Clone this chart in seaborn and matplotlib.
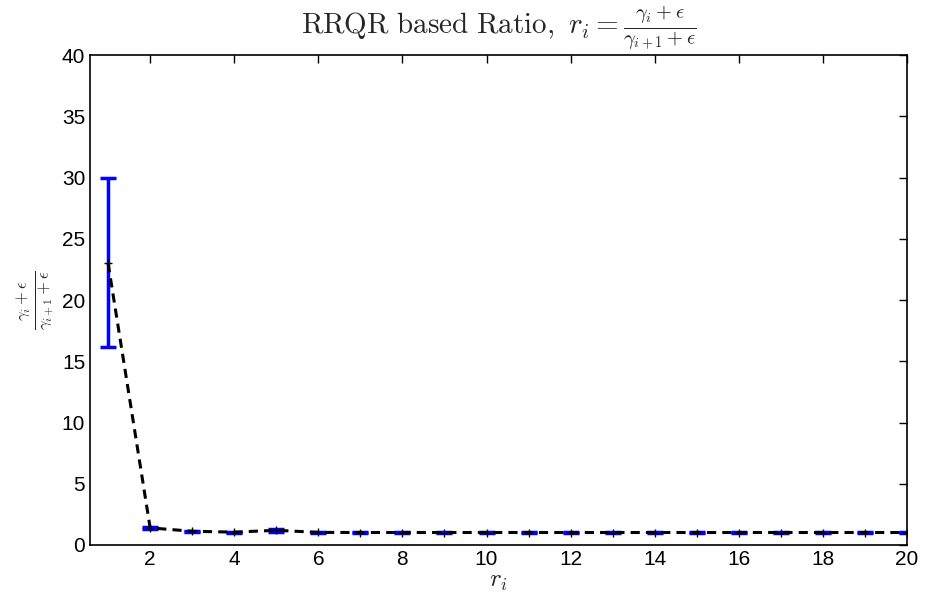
import numpy as np
import pandas as pd
import matplotlib
matplotlib.use("Agg")
import matplotlib.pyplot as plt
import seaborn as sns

# ---- data ----
idx = list(range(1, 21))
ratio_mean = [23.0, 1.40, 1.12, 1.05, 1.20, 1.03, 1.02, 1.02, 1.02, 1.02,
              1.02, 1.02, 1.02, 1.02, 1.02, 1.02, 1.02, 1.02, 1.02, 1.02]
ratio_low = [16.2, 1.28, 1.05, 1.00, 1.10, 1.00, 1.00, 1.00, 1.00, 1.00,
             1.00, 1.00, 1.00, 1.00, 1.00, 1.00, 1.00, 1.00, 1.00, 1.00]
ratio_high = [30.0, 1.50, 1.18, 1.10, 1.30, 1.06, 1.04, 1.04, 1.04, 1.04,
              1.04, 1.04, 1.04, 1.04, 1.04, 1.04, 1.04, 1.04, 1.04, 1.04]
x_ticks = [2, 4, 6, 8, 10, 12, 14, 16, 18, 20]
y_ticks = [0, 5, 10, 15, 20, 25, 30, 35, 40]

df = pd.DataFrame({"i": idx, "ratio": ratio_mean, "lo": ratio_low, "hi": ratio_high})

sns.set_style("white")
plt.rcParams["font.family"] = ["Liberation Sans", "DejaVu Sans"]
plt.rcParams["mathtext.fontset"] = "cm"

fig = plt.figure(figsize=(9.27, 5.92), dpi=100)
ax = fig.add_axes([0.0971, 0.0794, 0.8813, 0.8276])

yerr = np.vstack([df["ratio"] - df["lo"], df["hi"] - df["ratio"]])
ax.errorbar(df["i"], df["ratio"], yerr=yerr, fmt="none", ecolor="#0000ff",
            elinewidth=2.5, capsize=6, capthick=2.5, zorder=2)
sns.lineplot(data=df, x="i", y="ratio", ax=ax, color="black", linewidth=2.2,
             linestyle=(0, (3, 2)), marker="+", markersize=6, markeredgewidth=1,
             markeredgecolor="black", zorder=3)

ax.set_xlim(0.57, 20)
ax.set_ylim(0, 40)
ax.set_xticks(x_ticks)
ax.set_yticks(y_ticks)
ax.tick_params(direction="in", length=6, width=1, top=True, right=True,
               labelsize=15, colors="black")
for s in ax.spines.values():
    s.set_visible(True)
    s.set_color("black")
    s.set_linewidth(1.2)

ax.set_xlabel(r"$r_i$", fontsize=18, labelpad=0)
ax.set_ylabel(r"$\frac{\gamma_i+\epsilon}{\gamma_{i+1}+\epsilon}$", fontsize=17, labelpad=4)
ax.set_title(r"$\mathrm{RRQR\ based\ Ratio,}\ r_i = \frac{\gamma_i+\epsilon}{\gamma_{i+1}+\epsilon}$",
             fontsize=21, pad=14)

fig.savefig("out.png", dpi=100)
